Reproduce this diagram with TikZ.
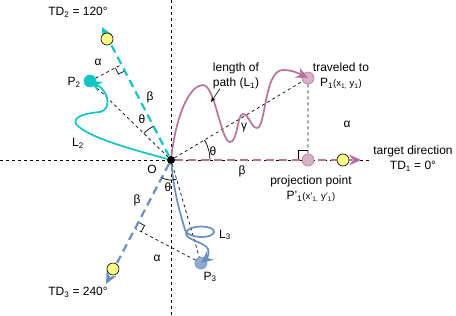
\documentclass[tikz,border=0pt]{standalone}
\usepackage{fontspec}
\setmainfont{Liberation Sans}
\definecolor{trackpink}{RGB}{181,115,157}
\definecolor{trackcyan}{RGB}{20,196,196}
\definecolor{trackblue}{RGB}{108,142,191}
\definecolor{goalyellow}{RGB}{255,255,136}
\newcommand{\smalltxt}{\fontsize{9.5}{11}\selectfont}
\usetikzlibrary{arrows.meta, positioning, calc, angles, backgrounds}

\begin{document}
\begin{tikzpicture}[x=1pt, y=1pt, font=\fontsize{12}{15}\selectfont,
    guide/.style={black, line width=0.7pt, dash pattern=on 3pt off 3pt},
    target/.style={line width=2.2pt, dash pattern=on 8pt off 5pt, -{Stealth[length=12pt, width=11pt]}},
    track/.style={line width=1.7pt, -{Stealth[length=12pt, width=11pt]}},
    goal/.style={circle, draw=black, fill=goalyellow, line width=0.6pt, minimum size=12pt, inner sep=0pt},
    spot/.style={circle, line width=0.6pt, minimum size=12pt, inner sep=0pt},
    theta/.style={draw, line width=0.7pt, angle radius=#1}]
  \useasboundingbox (0,0) rectangle (456,-316);

  \coordinate (west) at (0,-160);
  \coordinate (east) at (370,-160);
  \coordinate (north) at (171,0);
  \coordinate (south) at (171,-316);
  \coordinate (td1) at (361,-160);
  \coordinate (td2) at (102,-27);
  \coordinate (td3) at (106,-284);

  \node[circle, fill=black, inner sep=0pt, minimum size=8pt] (O) at (171,-160) {};
  \node[spot, draw=trackpink, fill=trackpink!55] (P1) at (308,-78) {};
  \node[spot, draw=trackpink, fill=trackpink!55] (P1p) at (308,-160) {};
  \node[spot, draw=trackcyan, fill=trackcyan] (P2) at (90,-81) {};
  \node[spot, draw=trackblue, fill=trackblue!75] (P3) at (201,-263) {};
  \node[goal] (goal1) at (343,-160) {};
  \node[goal] (goal2) at (107,-39) {};
  \node[goal] (goal3) at (113,-269) {};
  \coordinate (f2) at ($(O)!(P2)!(td2)$);
  \coordinate (f3) at ($(O)!(P3)!(td3)$);
  \coordinate (onpath) at (211,-102);

  \begin{scope}[on background layer]
    \draw[guide] (west) -- (east);
    \draw[guide] (north) -- (south);
    \draw[guide] (O) -- (P1) -- (P1p);
    \draw[guide] (O) -- (P2) -- (f2);
    \draw[guide] (O) -- (P3) -- (f3);
    \foreach \f/\p/\s in {P1p/P1/10, f2/P2/7, f3/P3/7}
      \draw[line width=0.7pt] ($(\f)!\s pt!(O)$) -- ($(\f)!\s pt!(O) + (\f)!\s pt!(\p) - (\f)$) -- ($(\f)!\s pt!(\p)$);
    \draw[target, trackpink] (O) -- (td1);
    \draw[target, trackcyan] (O) -- (td2);
    \draw[target, trackblue] (O) -- (td3);
  \end{scope}

  \draw[track, trackpink] (O) .. controls (177,-110) and (191,-85) .. (203,-85)
    .. controls (215,-85) and (221,-142) .. (230,-142)
    .. controls (238,-142) and (237,-114) .. (243,-114)
    .. controls (249,-114) and (251,-128) .. (257,-128)
    .. controls (266,-128) and (264,-70) .. (283,-70)
    .. controls (293,-70) and (300,-74) .. (P1.center);
  \draw[track, trackcyan] (O) .. controls (135,-150) and (88,-138) .. (76,-124)
    .. controls (72,-116) and (88,-113) .. (100,-112)
    .. controls (111,-110) and (110,-92) .. (P2.center);
  \draw[track, trackblue] (O) .. controls (175,-200) and (182,-218) .. (185,-230)
    .. controls (188,-239) and (213,-239) .. (214,-232)
    .. controls (215,-225) and (188,-224) .. (186,-233)
    .. controls (185,-240) and (205,-242) .. (208,-249)
    .. controls (210,-255) and (206,-259) .. (P3.center);

  \pic[theta=39pt] {angle=P1p--O--P1};
  \pic[theta=38pt] {angle=td2--O--P2};
  \pic[theta=20pt] {angle=td3--O--P3};

  \node (lblO) at (152,-169) {O};
  \node (lbltd2) at (78,-12) {TD\textsubscript{2} = 120°};
  \node (lbltd3) at (78,-292) {TD\textsubscript{3} = 240°};
  \node[align=center] (lbltd1) at (413,-159) {target direction\\TD\textsubscript{1} = 0°};
  \node[align=center] (lbltravel) at (341,-76) {traveled to\\P\textsubscript{1}{\smalltxt(x\textsubscript{1,} y\textsubscript{1})}};
  \node[align=center] (lblproj) at (311,-189) {projection point\\P'\textsubscript{1}{\smalltxt(x'\textsubscript{1,} y'\textsubscript{1})}};
  \node[align=center] (lblpath) at (236,-76) {length of\\path (L\textsubscript{1})};
  \draw[line width=0.6pt, -{Stealth[length=5pt, width=4pt]}] ([xshift=-16pt, yshift=4pt]lblpath.south) -- (onpath);
  \node (lblP2) at (74,-82) {P\textsubscript{2}};
  \node (lblP3) at (210,-277) {P\textsubscript{3}};
  \node (lblL2) at (78,-143) {L\textsubscript{2}};
  \node (lblL3) at (225,-235) {L\textsubscript{3}};
  \node (th1) at (213,-151) {θ};
  \node (th2) at (142,-119) {θ};
  \node (th3) at (168,-187) {θ};
  \node (al1) at (347,-124) {α};
  \node (al2) at (98,-62) {α};
  \node (al3) at (157,-258) {α};
  \node (be1) at (242,-171) {β};
  \node (be2) at (150,-97) {β};
  \node (be3) at (137,-200) {β};
  \node (ga1) at (244,-128) {γ};
\end{tikzpicture}
\end{document}
